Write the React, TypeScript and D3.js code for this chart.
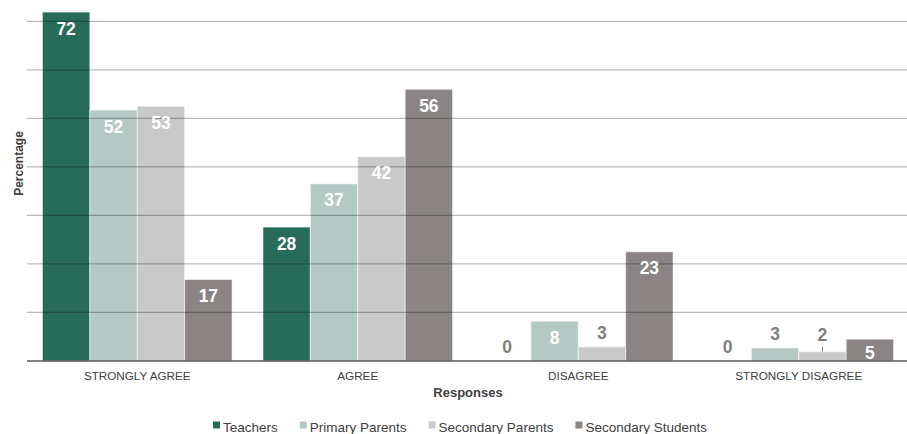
import React from "react";
import * as d3 from "d3";

const categories = ["STRONGLY AGREE", "AGREE", "DISAGREE", "STRONGLY DISAGREE"];
const seriesNames = ["Teachers", "Primary Parents", "Secondary Parents", "Secondary Students"];
const seriesColors = ["#276c59", "#b5c9c4", "#c9c9c9", "#8a8584"];
const teachers = [71.9, 27.6, 0, 0];
const primaryParents = [51.7, 36.5, 8.2, 2.7];
const secondaryParents = [52.5, 42.1, 2.9, 1.9];
const secondaryStudents = [16.8, 56.0, 22.5, 4.5];
const yTicks = [10, 20, 30, 40, 50, 60, 70];

const W = 907;
const H = 434;
const FONT = "'Liberation Sans', Arial, sans-serif";

function measure(text: string, font: string): number {
  const c = document.createElement("canvas");
  const ctx = c.getContext("2d");
  if (!ctx) return text.length * 7;
  ctx.font = font;
  return ctx.measureText(text).width;
}

export default function App() {
  const series = [teachers, primaryParents, secondaryParents, secondaryStudents];
  const left = 27;
  const right = 909;
  const baseY = 361;
  const x0 = d3.scaleBand<string>().domain(categories).range([left, right]).paddingInner(0.14).paddingOuter(0.07);
  const x1 = d3.scaleBand<string>().domain(seriesNames).range([0, x0.bandwidth()]).padding(0);
  const y = d3.scaleLinear().domain([0, 70]).range([baseY, 21.3]);

  // legend layout
  const legendSize = 13.5;
  const legendFont = `${legendSize}px 'Liberation Sans', Arial, sans-serif`;
  const sq = 7;
  const gapSqText = 3;
  const gapItems = 22;
  const widths = seriesNames.map((s) => measure(s, legendFont));
  const totalW = widths.reduce((a, w) => a + sq + gapSqText + w, 0) + gapItems * (seriesNames.length - 1);
  let lx = 460 - totalW / 2;
  const legendItems = seriesNames.map((s, i) => {
    const item = { name: s, x: lx, color: seriesColors[i] };
    lx += sq + gapSqText + widths[i] + gapItems;
    return item;
  });

  const bars: any[] = [];
  categories.forEach((c, ci) => {
    series.forEach((vals, si) => {
      const v = vals[ci];
      const bx = (x0(c) ?? 0) + (x1(seriesNames[si]) ?? 0);
      const bw = x1.bandwidth();
      const top = y(v);
      bars.push({ key: `${ci}-${si}`, x: bx, w: bw, top, v, color: seriesColors[si] });
    });
  });

  return (
    <svg width={W} height={H} style={{ position: "absolute", left: 0, top: 0, background: "#fff" }} fontFamily={FONT}>
      {bars.map((b) => (
        <rect key={b.key} x={b.x} y={b.top} width={b.w} height={baseY - b.top} fill={b.color} stroke="rgba(255,255,255,0.55)" strokeWidth={1} />
      ))}
      {yTicks.map((t) => (
        <line key={t} x1={left} x2={W} y1={y(t)} y2={y(t)} stroke="#000" strokeOpacity={0.27} strokeWidth={1.2} />
      ))}
      <line x1={left} x2={W} y1={baseY} y2={baseY} stroke="#595959" strokeWidth={1.5} />
      {bars.map((b) => {
        const cx = b.x + b.w / 2;
        const h = baseY - b.top;
        const label = Math.round(b.v);
        if (h >= 18) {
          const by = Math.min(b.top + 22.5, baseY - 2);
          return (
            <text key={"l" + b.key} x={cx} y={by} textAnchor="middle" fill="#fff" fontWeight="bold" fontSize={17.5}>
              {label}
            </text>
          );
        }
        const lead = b.v > 0 && h < 12;
        const by = lead ? b.top - 11 : b.top - 8;
        return (
          <g key={"l" + b.key}>
            <text x={cx} y={by} textAnchor="middle" fill="#7f7f7f" fontWeight="bold" fontSize={17.5}>
              {label}
            </text>
            {lead && <line x1={cx} x2={cx} y1={by + 6} y2={b.top} stroke="#7f7f7f" strokeWidth={1} />}
          </g>
        );
      })}
      {categories.map((c) => (
        <text key={c} x={(x0(c) ?? 0) + x0.bandwidth() / 2} y={379.5} textAnchor="middle" fontSize={11.7} fill="#404040">
          {c}
        </text>
      ))}
      <text x={(left + right) / 2} y={396.7} textAnchor="middle" fontSize={13} fontWeight="bold" fill="#404040">
        Responses
      </text>
      <text transform={`translate(23,163.5) rotate(-90)`} textAnchor="middle" fontSize={12} fontWeight="bold" fill="#404040">
        Percentage
      </text>
      {legendItems.map((it) => (
        <g key={it.name}>
          <rect x={it.x} y={421.5} width={sq} height={sq} fill={it.color} />
          <text x={it.x + sq + gapSqText} y={431.5} fontSize={legendSize} fill="#404040">
            {it.name}
          </text>
        </g>
      ))}
    </svg>
  );
}
